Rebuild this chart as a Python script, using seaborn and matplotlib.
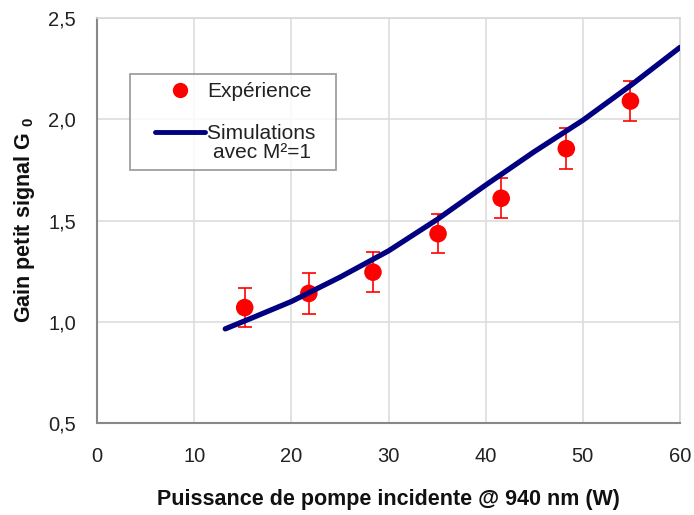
import matplotlib
matplotlib.use("Agg")
import matplotlib.pyplot as plt
import seaborn as sns
import pandas as pd
import numpy as np
from matplotlib.lines import Line2D
from matplotlib.legend_handler import HandlerLine2D

# Data
exp_x = [15.2, 21.8, 28.4, 35.1, 41.6, 48.3, 54.9]
exp_y = [1.07, 1.14, 1.245, 1.435, 1.61, 1.855, 2.09]
exp_err = [0.095, 0.10, 0.10, 0.095, 0.10, 0.10, 0.10]

sim_x = [13.2, 16, 20, 25, 30, 35, 40, 45, 50, 55, 60]
sim_y = [0.965, 1.02, 1.10, 1.22, 1.35, 1.505, 1.675, 1.84, 1.995, 2.17, 2.355]

xticks = [0, 10, 20, 30, 40, 50, 60]
yticks = [0.5, 1.0, 1.5, 2.0, 2.5]

sns.set_style("white")
plt.rcParams['font.family'] = ['Liberation Sans', 'DejaVu Sans']
plt.rcParams['mathtext.fontset'] = 'custom'
plt.rcParams['mathtext.rm'] = 'Liberation Sans'
plt.rcParams['mathtext.bf'] = 'Liberation Sans:bold'

fig = plt.figure(figsize=(6.94, 5.15), dpi=100)
ax = fig.add_axes([0.1398, 0.1786, 0.8400, 0.7864])

df_exp = pd.DataFrame({"x": exp_x, "y": exp_y})
df_sim = pd.DataFrame({"x": sim_x, "y": sim_y})

ax.errorbar(exp_x, exp_y, yerr=exp_err, fmt='none', ecolor='#ff0000',
            elinewidth=1.2, capsize=5, capthick=1.2, zorder=3)
sns.scatterplot(data=df_exp, x="x", y="y", ax=ax, color='#ff0000', s=160,
                edgecolor='none', zorder=4, legend=False)
sns.lineplot(data=df_sim, x="x", y="y", ax=ax, color='#000080', linewidth=3.8,
             zorder=5, legend=False)

ax.set_xlim(0, 60)
ax.set_ylim(0.5, 2.5)
ax.set_xticks(xticks)
ax.set_yticks(yticks)
ax.set_xticklabels([str(t) for t in xticks])
ax.set_yticklabels([f"{t:.1f}".replace('.', ',') for t in yticks])
ax.tick_params(axis='both', labelsize=14.5, colors='#888888', labelcolor='#222222',
               direction='out', length=6, width=1.2)
ax.tick_params(axis='y', pad=9)
ax.tick_params(axis='x', pad=11)

ax.grid(True, color='#dddddd', linewidth=1.2)
ax.set_axisbelow(True)
for s in ['left', 'bottom']:
    ax.spines[s].set_color('#888888')
    ax.spines[s].set_linewidth(1.5)
for s in ['top', 'right']:
    ax.spines[s].set_color('#d8d8d8')
    ax.spines[s].set_linewidth(1.2)

ax.set_xlabel("Puissance de pompe incidente @ 940 nm (W)", fontsize=15.5,
              fontweight='bold', labelpad=17, color='#111111')
ax.set_ylabel(r"Gain petit signal G $_{\mathbf{0}}$", fontsize=15.5,
              fontweight='bold', labelpad=8, color='#111111')


class ShiftHandler(HandlerLine2D):
    def __init__(self, x0=0.0, dy=0.0, **kw):
        super().__init__(**kw)
        self.x0 = x0
        self.dy = dy

    def create_artists(self, legend, orig_handle, xdescent, ydescent,
                       width, height, fontsize, trans):
        arts = super().create_artists(legend, orig_handle, xdescent, ydescent,
                                      width, height, fontsize, trans)
        x_start = self.x0 - xdescent
        x_end = width - xdescent
        for a in arts:
            xd = np.asarray(a.get_xdata(orig=True), dtype=float)
            yd = np.asarray(a.get_ydata(orig=True), dtype=float)
            n = len(xd)
            if n >= 2:
                nx = np.linspace(x_start, x_end, n)
            else:
                nx = np.full(n, (x_start + x_end) / 2.0)
            ny = yd + self.dy
            a.set_data(nx, ny)
        return arts


exp_handle = Line2D([0], [0], marker='o', linestyle='none', color='#ff0000',
                    markerfacecolor='#ff0000', markeredgecolor='none',
                    markersize=11, label='Expérience')
sim_handle = Line2D([0], [0], color='#000080', linewidth=3.5,
                    label='Simulations  \navec M²=1  ')
leg = ax.legend(handles=[exp_handle, sim_handle], loc='upper left',
                bbox_to_anchor=(0.057, 0.863), numpoints=1,
                fontsize=15, frameon=True, fancybox=False, edgecolor='#888888',
                handlelength=3.2, borderpad=0.4, labelspacing=1.1,
                handletextpad=0.1, borderaxespad=0,
                handler_map={exp_handle: ShiftHandler(x0=12.0),
                             sim_handle: ShiftHandler(x0=12.0, dy=8.0)})
leg.get_frame().set_linewidth(1.3)
for t in leg.get_texts():
    t.set_ha('center')
    t.set_color('#222222')
    t.set_linespacing(1.0)

fig.savefig("out.png", dpi=100)
